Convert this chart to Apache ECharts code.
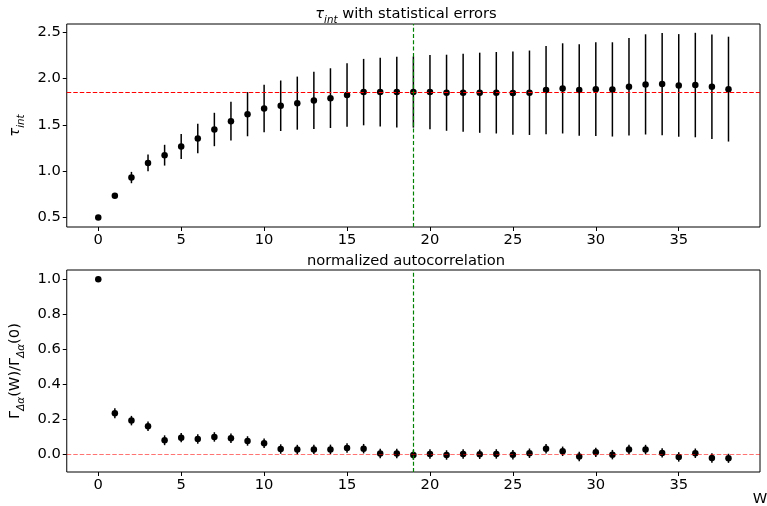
<!DOCTYPE html>
<html>
<head>
<meta charset="utf-8">
<script src="https://cdn.jsdelivr.net/npm/echarts@6/dist/echarts.min.js"></script>
<style>
  html, body { margin: 0; padding: 0; background: #fff; }
  #chart { width: 767px; height: 506px; }
</style>
</head>
<body>
<div id="chart"></div>
<script>
// Window sizes W
const W = [0, 1, 2, 3, 4, 5, 6, 7, 8, 9, 10, 11, 12, 13, 14, 15, 16, 17, 18, 19,
           20, 21, 22, 23, 24, 25, 26, 27, 28, 29, 30, 31, 32, 33, 34, 35, 36, 37, 38];

// Integrated autocorrelation time and its statistical error
const tauInt = [0.500, 0.736, 0.931, 1.089, 1.172, 1.265, 1.352, 1.449, 1.539, 1.614,
                1.676, 1.705, 1.733, 1.762, 1.787, 1.820, 1.852, 1.852, 1.852, 1.852,
                1.852, 1.845, 1.845, 1.845, 1.845, 1.841, 1.845, 1.874, 1.892, 1.874,
                1.884, 1.881, 1.910, 1.935, 1.938, 1.924, 1.928, 1.910, 1.884];
const tauErr = [0.000, 0.025, 0.061, 0.090, 0.112, 0.135, 0.160, 0.180, 0.209, 0.238,
                0.256, 0.272, 0.286, 0.308, 0.322, 0.342, 0.358, 0.371, 0.382, 0.383,
                0.400, 0.410, 0.421, 0.432, 0.439, 0.448, 0.455, 0.475, 0.486, 0.493,
                0.504, 0.508, 0.526, 0.540, 0.551, 0.553, 0.563, 0.563, 0.565];

// Normalized autocorrelation and its error
const gammaNorm = [1.000, 0.236, 0.194, 0.162, 0.082, 0.097, 0.089, 0.101, 0.093, 0.078,
                   0.065, 0.032, 0.029, 0.030, 0.030, 0.038, 0.034, 0.006, 0.006, -0.002,
                   0.004, -0.002, 0.004, 0.002, 0.004, 0.000, 0.008, 0.034, 0.019, -0.011,
                   0.013, 0.000, 0.030, 0.029, 0.010, -0.013, 0.008, -0.019, -0.021];
const gammaErr = [0.000, 0.028, 0.027, 0.027, 0.028, 0.027, 0.027, 0.027, 0.027, 0.027,
                  0.027, 0.027, 0.027, 0.027, 0.027, 0.027, 0.027, 0.027, 0.027, 0.027,
                  0.027, 0.027, 0.027, 0.027, 0.027, 0.027, 0.027, 0.027, 0.027, 0.027,
                  0.027, 0.027, 0.027, 0.027, 0.027, 0.027, 0.027, 0.027, 0.026];

// Chosen window and the plateau value of tau_int
const windowW = 19;
const tauPlateau = 1.852;

// Tick labels
const xTicks = [0, 5, 10, 15, 20, 25, 30, 35];
const tauTicks = [0.5, 1.0, 1.5, 2.0, 2.5];
const gammaTicks = [0.0, 0.2, 0.4, 0.6, 0.8, 1.0];

const FONT = 'DejaVu Sans';
const FS = 14.7;

const chart = echarts.init(document.getElementById('chart'), null, { renderer: 'canvas' });

function errorBars(xs, ys, es) {
  return xs.map((x, i) => [x, ys[i] - es[i], ys[i] + es[i]]);
}

function renderErrorBar(params, api) {
  const p1 = api.coord([api.value(0), api.value(1)]);
  const p2 = api.coord([api.value(0), api.value(2)]);
  return {
    type: 'line',
    shape: { x1: p1[0], y1: p1[1], x2: p2[0], y2: p2[1] },
    style: { stroke: '#000', lineWidth: 1.5 }
  };
}

function xAxisDef(gridIndex) {
  return {
    type: 'value', gridIndex, min: -1.9, max: 39.9,
    axisLine: { show: false, onZero: false },
    splitLine: { show: false },
    axisTick: { show: true, length: 4, customValues: xTicks, lineStyle: { color: '#000', width: 1 } },
    axisLabel: { customValues: xTicks, color: '#000', fontFamily: FONT, fontSize: FS, margin: 6 }
  };
}

function yAxisDef(gridIndex, min, max, ticks, nameRich, name, nameGap) {
  return {
    type: 'value', gridIndex, min, max,
    axisLine: { show: false, onZero: false },
    splitLine: { show: false },
    axisTick: { show: true, length: 4, customValues: ticks, lineStyle: { color: '#000', width: 1 } },
    axisLabel: {
      customValues: ticks, color: '#000', fontFamily: FONT, fontSize: FS, margin: 6,
      formatter: v => v.toFixed(1)
    },
    name, nameLocation: 'middle', nameGap,
    nameTextStyle: { color: '#000', fontFamily: FONT, fontSize: FS, rich: nameRich }
  };
}

// Reference lines live in an empty series drawn beneath the data
function refLines(gridIndex, yValue, yColor) {
  return {
    type: 'scatter', xAxisIndex: gridIndex, yAxisIndex: gridIndex,
    data: [], z: 1, silent: true,
    markLine: {
      silent: true, symbol: 'none', label: { show: false }, animation: false,
      data: [
        { yAxis: yValue, lineStyle: { color: yColor, width: 1.2, type: [4.5, 2], opacity: 1 } },
        { xAxis: windowW, lineStyle: { color: '#008000', width: 1.2, type: [4, 2.3], opacity: 1 } }
      ]
    }
  };
}

const subRich = {
  m: { fontFamily: FONT, fontSize: FS, color: '#000', lineHeight: 22 },
  mi: { fontFamily: FONT, fontSize: FS, color: '#000', fontStyle: 'italic', lineHeight: 22 },
  s: { fontFamily: FONT, fontSize: 10.3, color: '#000', fontStyle: 'italic', lineHeight: 22, verticalAlign: 'bottom' }
};

const option = {
  animation: false,
  backgroundColor: '#fff',
  grid: [
    { left: 52, right: 7, top: 24, height: 203, show: true, borderColor: '#000', borderWidth: 1, backgroundColor: 'transparent' },
    { left: 52, right: 7, top: 270, height: 202, show: true, borderColor: '#000', borderWidth: 1, backgroundColor: 'transparent' }
  ],
  xAxis: [xAxisDef(0), xAxisDef(1)],
  yAxis: [
    yAxisDef(0, 0.398, 2.586, tauTicks, subRich, '{mi|τ}{s|int}', 33),
    yAxisDef(1, -0.099, 1.053, gammaTicks, subRich, '{m|Γ}{s|Δα}{m|(W)/Γ}{s|Δα}{m|(0)}', 33)
  ],
  graphic: [
    {
      type: 'text', x: 406, y: 14,
      style: {
        text: '{mi|τ}{s|int}{m| with statistical errors}',
        align: 'center', verticalAlign: 'middle', rich: subRich
      }
    },
    {
      type: 'text', x: 406, y: 261,
      style: {
        text: 'normalized autocorrelation', fill: '#000',
        font: FS + 'px "' + FONT + '"', align: 'center', verticalAlign: 'middle'
      }
    },
    {
      type: 'text', x: 760, y: 499,
      style: {
        text: 'W', fill: '#000',
        font: FS + 'px "' + FONT + '"', align: 'center', verticalAlign: 'middle'
      }
    }
  ],
  series: [
    refLines(0, tauPlateau, '#ff0000'),
    {
      type: 'custom', xAxisIndex: 0, yAxisIndex: 0,
      renderItem: renderErrorBar,
      encode: { x: 0, y: [1, 2] },
      data: errorBars(W, tauInt, tauErr),
      z: 2
    },
    {
      type: 'scatter', xAxisIndex: 0, yAxisIndex: 0,
      data: W.map((w, i) => [w, tauInt[i]]),
      symbol: 'circle', symbolSize: 6.5,
      itemStyle: { color: '#000', opacity: 1 },
      z: 3
    },
    refLines(1, 0, 'rgba(255,0,0,0.55)'),
    {
      type: 'custom', xAxisIndex: 1, yAxisIndex: 1,
      renderItem: renderErrorBar,
      encode: { x: 0, y: [1, 2] },
      data: errorBars(W, gammaNorm, gammaErr),
      z: 2
    },
    {
      type: 'scatter', xAxisIndex: 1, yAxisIndex: 1,
      data: W.map((w, i) => [w, gammaNorm[i]]),
      symbol: 'circle', symbolSize: 6.5,
      itemStyle: { color: '#000', opacity: 1 },
      z: 3
    }
  ]
};

chart.setOption(option);
</script>
</body>
</html>
